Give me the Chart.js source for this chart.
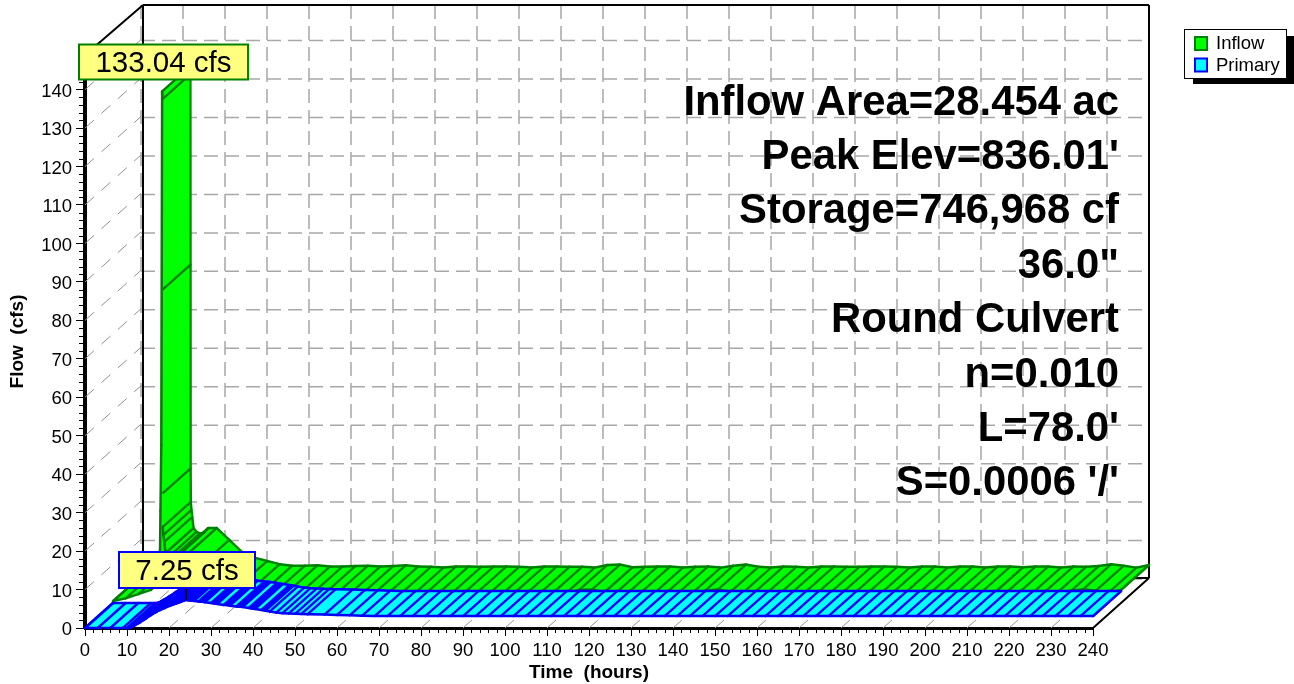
<!DOCTYPE html>
<html>
<head>
<meta charset="utf-8">
<style>
  html, body { margin: 0; padding: 0; background: #fff; }
  canvas { display: block; }
</style>
<script src="https://cdn.jsdelivr.net/npm/chart.js@4/dist/chart.umd.min.js"></script>
</head>
<body>
<canvas id="flowChart" width="1294" height="684"></canvas>
<script>
const xTicks = [0, 10, 20, 30, 40, 50, 60, 70, 80, 90, 100, 110, 120, 130, 140, 150, 160, 170, 180, 190, 200, 210, 220, 230, 240];
const yTicks = [0, 10, 20, 30, 40, 50, 60, 70, 80, 90, 100, 110, 120, 130, 140];
const noteLines = ['Inflow Area=28.454 ac', "Peak Elev=836.01'", 'Storage=746,968 cf', '36.0"', 'Round Culvert', 'n=0.010', "L=78.0'", "S=0.0006 '/'"];

const inflowTimes = [0, 3, 6, 9, 10, 11.2, 11.3, 11.5, 11.7, 11.75, 11.78, 11.8, 11.85, 12, 12.2, 12.5, 13.2, 14, 15, 16, 18, 21, 24, 27, 30, 33,
  36, 39, 42, 45, 48, 51, 54, 57, 60, 63, 66, 69, 72, 75, 78, 81, 84, 87, 90, 93, 96, 99, 102, 105, 108, 111, 114, 117, 120,
  123, 126, 129, 132, 135, 138, 141, 144, 147, 150, 153, 156, 159, 162, 165, 168, 171, 174, 177, 180, 183, 186, 189, 192,
  195, 198, 201, 204, 207, 210, 213, 216, 219, 222, 225, 228, 231, 234, 237, 240];
const inflowValues = [0.5, 1.2, 2.3, 3.4, 5, 14, 24, 41, 133.04, 131, 81.5, 28.5, 19.8, 17.7, 15.9, 13, 12, 11.6, 11.8, 13, 13, 9.9, 6.8, 5.3, 4.4, 3.6,
  3.2, 3.2, 3.3, 3.0, 3.0, 3.1, 3.2, 3.0, 3.1, 3.3, 3.0, 2.9, 2.7, 3.0, 3.0, 2.9, 3.0, 3.0, 2.9, 2.7, 3.0, 3.0, 2.9, 2.9, 2.7, 3.4, 3.5, 2.8, 2.9,
  3.0, 3.0, 2.7, 2.9, 3.0, 2.7, 3.2, 3.5, 2.9, 2.7, 3.0, 2.9, 2.7, 3.0, 3.0, 2.9, 2.9, 3.0, 3.0, 2.9, 2.7, 3.0, 3.0, 2.7,
  3.0, 3.0, 2.7, 3.0, 3.0, 2.8, 3.0, 3.0, 2.7, 3.0, 2.9, 3.1, 3.6, 3.2, 2.7, 3.4];

const primaryTimes = [0, 3, 6, 9, 10, 10.5, 11, 11.5, 12, 12.5, 13, 13.5, 14, 14.5, 15, 15.5, 16, 16.5, 17, 17.5, 18, 18.5, 19, 19.5, 20, 20.5, 21, 21.5, 22, 22.5, 23, 23.5, 24,
  24.5, 25, 25.5, 26, 27, 27.5, 28, 28.5, 30, 30.5, 31, 31.5, 33, 33.5, 34, 34.5, 36, 36.5, 37, 37.5, 39, 39.5, 40, 40.5, 42, 42.5, 43,
  44, 45.5, 47, 48.5, 50, 51.5, 53, 57, 60, 63, 66, 69,
  72, 75, 78, 81, 84, 87, 90, 93, 96, 99, 102, 105, 108, 111, 114, 117, 120, 123, 126, 129, 132, 135, 138, 141, 144, 147, 150,
  153, 156, 159, 162, 165, 168, 171, 174, 177, 180, 183, 186, 189, 192, 195, 198, 201, 204, 207, 210, 213, 216, 219, 222, 225, 228, 231, 234, 237, 240];
const primaryValues = [0, 0, 0, 0, 0, 0, 0.2, 0.5, 0.8, 1.1, 1.4, 1.8, 2.1, 2.5, 2.9, 3.2, 3.6, 3.9, 4.2, 4.5, 4.7, 5.0, 5.2, 5.5, 5.7, 5.9, 6.1, 6.3, 6.5, 6.7, 6.9, 7.1, 7.25,
  7.2, 7.15, 7.1, 7.05, 6.9, 6.85, 6.8, 6.7, 6.5, 6.4, 6.3, 6.25, 6.0, 5.95, 5.9, 5.8, 5.6, 5.55, 5.5, 5.45, 5.2, 5.1, 5.0, 4.95, 4.7, 4.6, 4.5,
  4.3, 4.0, 3.85, 3.8, 3.7, 3.65, 3.6, 3.5, 3.4, 3.3, 3.2, 3.15,
  3.1, 3.1, 3.1, 3.1, 3.1, 3.1, 3.1, 3.1, 3.1, 3.1, 3.1, 3.1, 3.1, 3.1, 3.1, 3.1, 3.1, 3.1, 3.1, 3.1, 3.1, 3.1, 3.1, 3.1, 3.1, 3.1, 3.1,
  3.1, 3.1, 3.1, 3.1, 3.1, 3.1, 3.1, 3.1, 3.1, 3.1, 3.1, 3.1, 3.1, 3.1, 3.1, 3.1, 3.1, 3.1, 3.1, 3.1, 3.1, 3.1, 3.1, 3.1, 3.1, 3.1, 3.1, 3.1, 3.1, 3.1];

const FONT = '"Liberation Sans", Arial, sans-serif';
const DEPTH_X = 56;
const DEPTH_Y = -50;

function toPoints(times, values) {
  return times.map((t, i) => ({ x: t, y: values[i] }));
}

function line(ctx, x1, y1, x2, y2) {
  ctx.beginPath();
  ctx.moveTo(x1, y1);
  ctx.lineTo(x2, y2);
  ctx.stroke();
}

// back wall, left wall and floor of the 3d box
function drawBox(chart) {
  const ctx = chart.ctx;
  const xs = chart.scales.x;
  const ys = chart.scales.y;
  const left = xs.left, right = xs.right, top = ys.top, bottom = ys.bottom;
  ctx.save();

  ctx.setLineDash([14, 7]);
  ctx.strokeStyle = '#bcbcbc';
  ctx.lineWidth = 2;
  xTicks.forEach(v => {
    const x = xs.getPixelForValue(v) + DEPTH_X;
    line(ctx, x, top + DEPTH_Y, x, bottom + DEPTH_Y);
  });
  ctx.strokeStyle = '#a8a8a8';
  ctx.lineWidth = 1.5;
  yTicks.forEach(v => {
    const y = ys.getPixelForValue(v) + DEPTH_Y + 1;
    line(ctx, left + DEPTH_X, y, right + DEPTH_X, y);
  });

  ctx.setLineDash([12, 10]);
  ctx.strokeStyle = '#909090';
  ctx.lineWidth = 1;
  yTicks.forEach(v => {
    const y = ys.getPixelForValue(v);
    line(ctx, left, y, left + DEPTH_X, y + DEPTH_Y);
  });
  xTicks.forEach(v => {
    const x = xs.getPixelForValue(v);
    line(ctx, x, bottom, x + DEPTH_X, bottom + DEPTH_Y);
  });

  // the black wall edge sits 2px right of the zero grid line in the reference
  ctx.setLineDash([]);
  ctx.strokeStyle = '#000';
  ctx.lineWidth = 2;
  line(ctx, left, top, left + DEPTH_X + 2, top + DEPTH_Y);
  line(ctx, left + DEPTH_X + 2, top + DEPTH_Y, right + DEPTH_X, top + DEPTH_Y);
  line(ctx, left + DEPTH_X + 2, top + DEPTH_Y, left + DEPTH_X + 2, bottom + DEPTH_Y);
  line(ctx, left + DEPTH_X + 2, bottom + DEPTH_Y, right + DEPTH_X, bottom + DEPTH_Y);
  line(ctx, right + DEPTH_X, top + DEPTH_Y, right + DEPTH_X, bottom + DEPTH_Y);
  line(ctx, right, bottom, right + DEPTH_X, bottom + DEPTH_Y);
  ctx.restore();
}

// one series is a ribbon between two depths, hatched at its samples
function drawRibbon(chart, index, from, to) {
  const ctx = chart.ctx;
  const ds = chart.data.datasets[index];
  const pts = chart.getDatasetMeta(index).data;
  const fx = DEPTH_X * from, fy = DEPTH_Y * from;
  const bx = DEPTH_X * to, by = DEPTH_Y * to;
  ctx.save();
  ctx.lineJoin = 'round';

  // filled quad by quad, one outline would cancel itself in the spike
  ctx.fillStyle = ds.ribbonFill;
  ctx.strokeStyle = ds.ribbonFill;
  ctx.lineWidth = 1;
  for (let i = 0; i < pts.length - 1; i++) {
    const a = pts[i], b = pts[i + 1];
    ctx.beginPath();
    ctx.moveTo(a.x + fx, a.y + fy);
    ctx.lineTo(b.x + fx, b.y + fy);
    ctx.lineTo(b.x + bx, b.y + by);
    ctx.lineTo(a.x + bx, a.y + by);
    ctx.closePath();
    ctx.fill();
    ctx.stroke();
  }

  // edges, leaving out the hidden sides of the spike
  ctx.strokeStyle = ds.ribbonEdge;
  ctx.lineWidth = 2.5;
  ctx.lineCap = 'round';
  for (let i = 0; i < pts.length - 1; i++) {
    const a = pts[i], b = pts[i + 1];
    const step = ds.data[i + 1].y - ds.data[i].y;
    if (step > -5) line(ctx, a.x + fx, a.y + fy, b.x + fx, b.y + fy);
    if (step < 5) line(ctx, a.x + bx, a.y + by, b.x + bx, b.y + by);
  }
  const first = pts[0], last = pts[pts.length - 1];
  line(ctx, first.x + fx, first.y + fy, first.x + bx, first.y + by);
  line(ctx, last.x + fx, last.y + fy, last.x + bx, last.y + by);

  ctx.lineWidth = 2.4;
  ctx.lineCap = 'butt';
  pts.forEach((p, i) => {
    // no hatch on the steep rise of the spike
    if (i < pts.length - 1 && ds.data[i + 1].y - ds.data[i].y > 5) return;
    line(ctx, p.x + fx, p.y + fy, p.x + bx, p.y + by);
  });
  ctx.restore();
}

function drawMinorTicks(chart) {
  const ctx = chart.ctx;
  const xs = chart.scales.x;
  const ys = chart.scales.y;
  ctx.save();
  ctx.strokeStyle = '#000';
  ctx.lineWidth = 1;
  for (let v = 2; v < xs.max; v += 2) {
    if (v % 10 === 0) continue;
    const x = Math.round(xs.getPixelForValue(v)) + 0.5;
    line(ctx, x, ys.bottom, x, ys.bottom + 5);
  }
  for (let v = 2; v < ys.max; v += 2) {
    if (v % 10 === 0) continue;
    const y = Math.round(ys.getPixelForValue(v)) + 0.5;
    line(ctx, xs.left - 6, y, xs.left, y);
  }
  ctx.restore();
}

function drawTag(chart, text, x, y, w, h, edge) {
  const ctx = chart.ctx;
  ctx.save();
  ctx.fillStyle = '#ffff80';
  ctx.fillRect(x, y, w, h);
  ctx.strokeStyle = edge;
  ctx.lineWidth = 2;
  ctx.strokeRect(x, y, w, h);
  ctx.fillStyle = '#000';
  ctx.font = '29.5px ' + FONT;
  ctx.textAlign = 'center';
  ctx.textBaseline = 'middle';
  ctx.fillText(text, x + w / 2, y + h / 2 + 1.5);
  ctx.restore();
}

function drawNotes(chart) {
  const ctx = chart.ctx;
  ctx.save();
  ctx.fillStyle = '#000';
  ctx.font = 'bold 41.8px ' + FONT;
  ctx.textAlign = 'right';
  ctx.textBaseline = 'middle';
  noteLines.forEach((s, i) => {
    ctx.fillText(s, 1119, 103 + i * 54.4);
  });
  ctx.restore();
}

function drawLegend(chart) {
  const ctx = chart.ctx;
  ctx.save();
  ctx.fillStyle = '#000';
  ctx.fillRect(1193, 36, 101, 48);
  ctx.fillStyle = '#fff';
  ctx.fillRect(1184.5, 29.5, 102, 49);
  ctx.strokeStyle = '#000';
  ctx.lineWidth = 1;
  ctx.strokeRect(1184.5, 29.5, 102, 49);
  ctx.font = '18.5px ' + FONT;
  ctx.textBaseline = 'middle';
  chart.data.datasets.forEach((ds, i) => {
    const y = 36 + i * 21.5;
    ctx.fillStyle = ds.ribbonFill;
    ctx.fillRect(1195, y + 1, 12, 13);
    ctx.strokeStyle = ds.ribbonEdge;
    ctx.lineWidth = 2;
    ctx.strokeRect(1195, y + 1, 12, 13);
    ctx.fillStyle = '#000';
    ctx.fillText(ds.label, 1216, y + 8);
  });
  ctx.restore();
}

const boxPlugin = {
  id: 'box3d',
  beforeDatasetsDraw: chart => {
    drawBox(chart);
  },
  afterDatasetsDraw: chart => {
    drawRibbon(chart, 0, 0.5, 1);
    drawRibbon(chart, 1, 0, 0.5);
    drawMinorTicks(chart);
    drawNotes(chart);
    const ctx = chart.ctx;
    const peak = chart.getDatasetMeta(1).data[primaryValues.indexOf(Math.max(...primaryValues))];
    ctx.save();
    ctx.strokeStyle = '#000';
    ctx.lineWidth = 2;
    line(ctx, peak.x, 589, peak.x, peak.y);
    ctx.restore();
    drawTag(chart, Math.max(...inflowValues).toFixed(2) + ' cfs', 79, 44.5, 169, 35, '#008000');
    drawTag(chart, Math.max(...primaryValues).toFixed(2) + ' cfs', 119, 552, 136, 36, '#0000ff');
    drawLegend(chart);
  }
};

var chart = new Chart(document.getElementById('flowChart'), {
  type: 'line',
  plugins: [boxPlugin],
  data: {
    datasets: [{
      label: 'Inflow',
      data: toPoints(inflowTimes, inflowValues),
      showLine: false,
      pointRadius: 0,
      ribbonFill: '#00ff00',
      ribbonEdge: '#008000'
    }, {
      label: 'Primary',
      data: toPoints(primaryTimes, primaryValues),
      showLine: false,
      pointRadius: 0,
      ribbonFill: '#00ffff',
      ribbonEdge: '#0000ff'
    }]
  },
  options: {
    responsive: false,
    animation: false,
    layout: {
      padding: { left: 0, right: 201, top: 55, bottom: 0 }
    },
    plugins: {
      legend: { display: false },
      tooltip: { enabled: false }
    },
    scales: {
      x: {
        type: 'linear',
        min: 0,
        max: 240,
        afterFit: scale => { scale.height = 56; },
        afterBuildTicks: scale => { scale.ticks = xTicks.map(v => ({ value: v })); },
        grid: { drawOnChartArea: false, tickLength: 8, tickColor: '#000' },
        border: { color: '#000', width: 3 },
        ticks: { color: '#000', font: { family: FONT, size: 18.5 }, maxRotation: 0, autoSkip: false, padding: 4 },
        title: { display: true, text: 'Time  (hours)', color: '#000', font: { family: FONT, size: 19, weight: 'bold' }, padding: { top: 0, bottom: 0 } }
      },
      y: {
        type: 'linear',
        min: 0,
        max: 149,
        afterFit: scale => { scale.width = 85; },
        afterBuildTicks: scale => { scale.ticks = yTicks.map(v => ({ value: v })); },
        grid: { drawOnChartArea: false, tickLength: 9, tickColor: '#000' },
        border: { color: '#000', width: 4 },
        ticks: { color: '#000', font: { family: FONT, size: 18.5 }, autoSkip: false, padding: 4, labelOffset: 2 },
        title: { display: true, text: 'Flow  (cfs)', color: '#000', font: { family: FONT, size: 19, weight: 'bold' }, padding: { top: 6, bottom: 0 } }
      }
    }
  }
});
</script>
</body>
</html>
